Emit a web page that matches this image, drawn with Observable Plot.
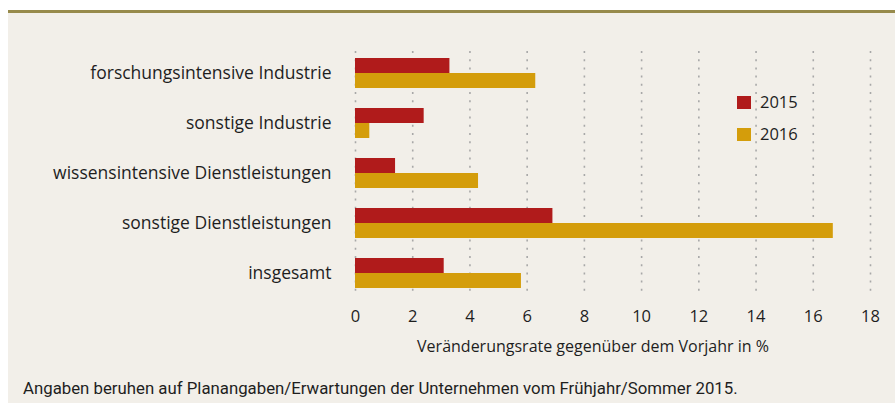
<!DOCTYPE html>
<html>
<head>
<meta charset="utf-8">
<script src="https://cdn.jsdelivr.net/npm/d3@7"></script>
<script src="https://cdn.jsdelivr.net/npm/@observablehq/plot@0.6"></script>
<style>
  html, body { margin: 0; padding: 0; background: #ffffff; }
  #panel {
    position: absolute; left: 8px; top: 10px; width: 887px; height: 393px;
    background: #f2efe9; border-top: 3px solid #978a4b; box-sizing: border-box;
    font-family: "Open Sans", Roboto, sans-serif; color: #1e1e1e;
  }
  #chart svg { display: block; }
  #caption { font-family: Roboto, sans-serif; font-size: 16.8px; line-height: 20px; padding: 3px 0 0 15px; color: #1e1e1e; }
  #legend { position: absolute; left: 729px; top: 80px; font-size: 16.5px; }
  .item { position: relative; height: 32px; }
  .sw { position: absolute; left: 0; top: 3px; width: 14px; height: 13px; }
  .lb { position: absolute; left: 23px; top: -2px; line-height: 22px; }
</style>
</head>
<body>
<div id="panel">
  <div id="chart"></div>
  <div id="caption"></div>
  <div id="legend"></div>
</div>
<script>
const categories = [
  "forschungsintensive Industrie",
  "sonstige Industrie",
  "wissensintensive Dienstleistungen",
  "sonstige Dienstleistungen",
  "insgesamt"
];
const years = ["2015", "2016"];
const values2015 = [3.3, 2.4, 1.4, 6.9, 3.1];
const values2016 = [6.3, 0.5, 4.3, 16.7, 5.8];
const xTicks = [0, 2, 4, 6, 8, 10, 12, 14, 16, 18];
const colors = ["#b01b1b", "#d49d0b"];
const axisLabel = "Veränderungsrate gegenüber dem Vorjahr in %";
const captionText = "Angaben beruhen auf Planangaben/Erwartungen der Unternehmen vom Frühjahr/Sommer 2015.";

const d15 = categories.map((c, i) => ({category: c, year: years[0], value: values2015[i]}));
const d16 = categories.map((c, i) => ({category: c, year: years[1], value: values2016[i]}));

const chart = Plot.plot({
  width: 887,
  height: 362,
  marginLeft: 347,
  marginRight: 25,
  marginTop: 35,
  marginBottom: 77,
  style: {fontFamily: "'Open Sans', Roboto, sans-serif", fontSize: "16px", color: "#1e1e1e", background: "transparent"},
  x: {domain: [0, 18], ticks: xTicks, label: null},
  y: {domain: categories, paddingInner: 0.4, paddingOuter: 0.2, label: null},
  color: {domain: years, range: colors},
  marks: [
    Plot.gridX(xTicks, {stroke: "#a8a8a8", strokeOpacity: 1, strokeWidth: 1.6, strokeDasharray: "2,6.2", insetTop: 3, insetBottom: 1}),
    Plot.barX(d15, {x: "value", y: "category", fill: d => d.year, insetBottom: 15}),
    Plot.barX(d16, {x: "value", y: "category", fill: d => d.year, insetTop: 15}),
    Plot.axisX(xTicks, {tickSize: 0, tickPadding: 12, fontSize: 16.5, label: null}),
    Plot.axisY({tickSize: 0, tickPadding: 24, fontSize: 17.5, label: null}),
    Plot.text([axisLabel], {frameAnchor: "bottom", dx: -20, dy: 48, lineAnchor: "middle", fontSize: 16, fill: "#1e1e1e"})
  ]
});
document.getElementById("chart").appendChild(chart);
document.getElementById("caption").textContent = captionText;

const legend = document.getElementById("legend");
years.forEach((y, i) => {
  const item = document.createElement("div");
  item.className = "item";
  const sw = document.createElement("div");
  sw.className = "sw";
  sw.style.background = colors[i];
  const lb = document.createElement("div");
  lb.className = "lb";
  lb.textContent = y;
  item.appendChild(sw);
  item.appendChild(lb);
  legend.appendChild(item);
});
</script>
</body>
</html>
